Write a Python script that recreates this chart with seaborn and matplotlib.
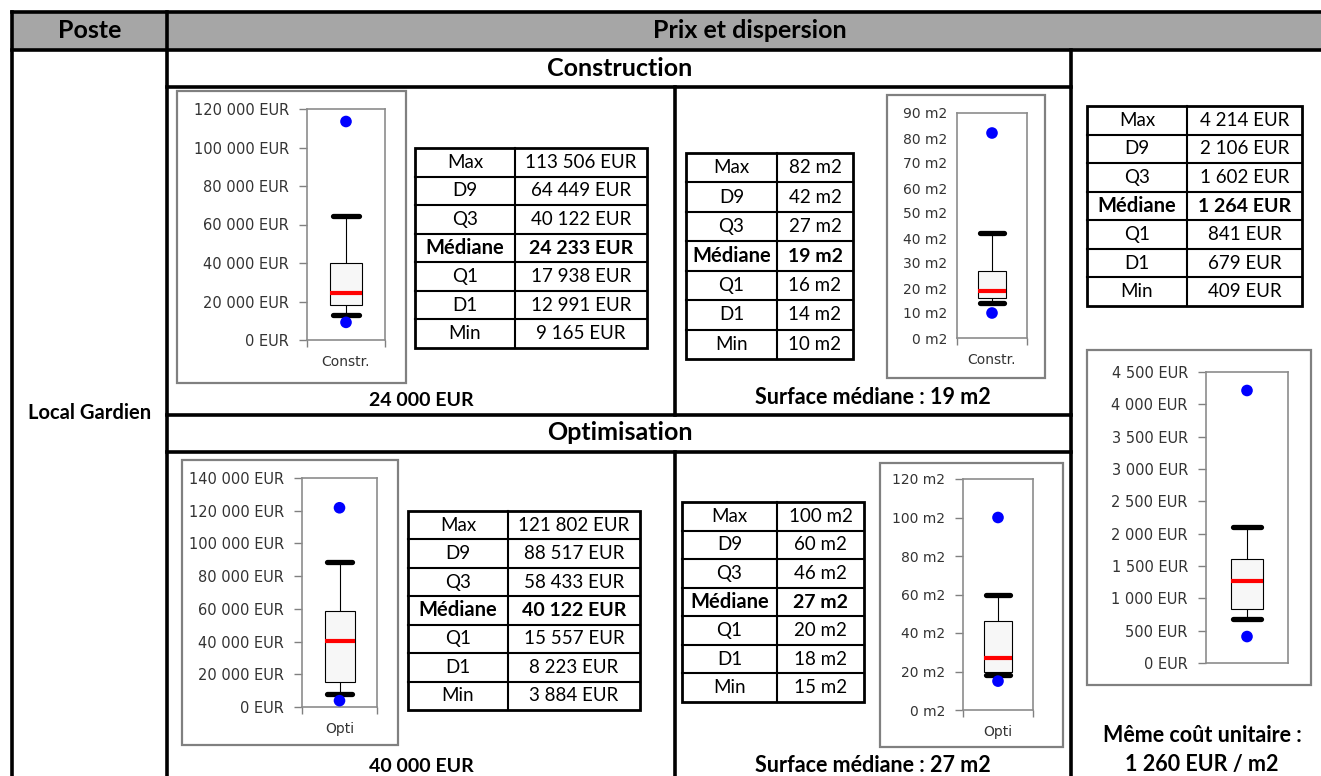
import matplotlib
matplotlib.use("Agg")
import matplotlib.pyplot as plt
import seaborn as sns
from matplotlib.patches import Rectangle
from matplotlib.ticker import FuncFormatter, MultipleLocator

W, H = 1321, 776

# stats shown in the tables and box charts (Max .. Min)
stat_labels = ["Max", "D9", "Q3", "Médiane", "Q1", "D1", "Min"]
constr_prix = [113506, 64449, 40122, 24233, 17938, 12991, 9165]
constr_surf = [82, 42, 27, 19, 16, 14, 10]
opti_prix = [121802, 88517, 58433, 40122, 15557, 8223, 3884]
opti_surf = [100, 60, 46, 27, 20, 18, 15]
cout_m2 = [4214, 2106, 1602, 1264, 841, 679, 409]

sns.set_theme(style="white")
plt.rcParams["font.family"] = ["Lato", "DejaVu Sans"]

fig = plt.figure(figsize=(W / 100, H / 100), dpi=100)
bg = fig.add_axes([0, 0, 1, 1])
bg.set_xlim(0, W)
bg.set_ylim(H, 0)
bg.axis("off")


def fmt(v, unit):
    return f"{int(v):,}".replace(",", " ") + " " + unit


def hline(y, x0, x1, lw=2.6):
    bg.plot([x0, x1], [y, y], color="black", lw=lw, solid_capstyle="projecting")


def vline(x, y0, y1, lw=2.6):
    bg.plot([x, x], [y0, y1], color="black", lw=lw, solid_capstyle="projecting")


def text(x, y, s, size=14, weight="bold"):
    bg.text(x, y, s, ha="center", va="center", fontsize=size, fontweight=weight, color="black")


def draw_table(x0, xs, x1, y0, y1, values, unit):
    rh = (y1 - y0) / len(stat_labels)
    for i, (lab, v) in enumerate(zip(stat_labels, values)):
        yc = y0 + (i + 0.5) * rh
        if lab == "Médiane":
            text((x0 + xs) / 2, yc, lab, 14.5, "bold")
            text((xs + x1) / 2, yc, fmt(v, unit), 14, "bold")
        else:
            text((x0 + xs) / 2, yc, lab, 13.5, "normal")
            text((xs + x1) / 2, yc, fmt(v, unit), 13.5, "normal")
        if i > 0:
            hline(y0 + i * rh, x0, x1, lw=1.5)
    vline(xs, y0, y1, lw=1.5)
    bg.add_patch(Rectangle((x0, y0), x1 - x0, y1 - y0, fill=False, ec="black", lw=2))


def draw_box(frame, area, values, top, step, unit, xlabel, tick_len=6, box_w=0.4):
    fx0, fy0, fx1, fy1 = frame
    bg.add_patch(Rectangle((fx0, fy0), fx1 - fx0, fy1 - fy0, fc="white", ec="#808080", lw=1.6))
    ax0, ay0, ax1, ay1 = area
    ax = fig.add_axes([ax0 / W, 1 - ay1 / H, (ax1 - ax0) / W, (ay1 - ay0) / H])
    vmax, d9, q3, med, q1, d1, vmin = values
    stats = [dict(med=med, q1=q1, q3=q3, whislo=d1, whishi=d9, fliers=[])]
    ax.bxp(stats, positions=[0], widths=box_w, capwidths=box_w * 0.85,
           patch_artist=True, showfliers=False,
           boxprops=dict(facecolor="#f7f7f7", edgecolor="black", lw=0.8),
           whiskerprops=dict(color="black", lw=0.8),
           capprops=dict(color="black", lw=3.8),
           medianprops=dict(color="red", lw=3))
    sns.scatterplot(x=[0, 0], y=[vmin, vmax], color="blue", s=70,
                    edgecolor="none", ax=ax, zorder=5)
    ax.set_xlim(-0.5, 0.5)
    ax.set_ylim(0, top)
    ax.yaxis.set_major_locator(MultipleLocator(step))
    ax.yaxis.set_major_formatter(FuncFormatter(lambda v, p: fmt(v, unit)))
    ax.set_xticks([0])
    ax.set_xticklabels([xlabel])
    ax.set_xlabel("")
    ax.set_ylabel("")
    ax.tick_params(axis="x", length=0, pad=11, labelsize=10, labelcolor="#333333")
    if xlabel:
        ax.set_xticks([-0.5, 0.5], minor=True)
        ax.tick_params(axis="x", which="minor", bottom=True, length=5, width=1, color="#808080")
    ax.tick_params(axis="y", left=True, length=tick_len, width=1, color="#808080",
                   pad=7, labelsize=10.5 if unit == "EUR" else 10, labelcolor="#333333")
    for lab in ax.get_xticklabels() + ax.get_yticklabels():
        lab.set_fontfamily("DejaVu Sans")
    for sp in ax.spines.values():
        sp.set_color("#8c8c8c")
        sp.set_linewidth(1.2)
    return ax


# header band
bg.add_patch(Rectangle((12, 12), W - 12, 38, fc="#a6a6a6", ec="none"))

# grid of the sheet
hline(12, 12, W + 5)
hline(50, 12, W + 5)
hline(87, 167, 1071)
hline(415, 167, 1071)
hline(452, 167, 1071)
vline(12, 12, H + 5)
vline(167, 12, H + 5)
vline(675, 87, 415)
vline(675, 452, H + 5)
vline(1071, 50, H + 5)

text(90, 31, "Poste", 18)
text(750, 30, "Prix et dispersion", 18)
text(620, 68, "Construction", 18)
text(620, 433, "Optimisation", 18)
text(90, 413, "Local Gardien", 14.5)

# construction
draw_box((177, 91, 406, 383), (307, 109, 385, 340), constr_prix, 120000, 20000, "EUR", "Constr.")
draw_table(415, 515, 647, 148, 348, constr_prix, "EUR")
text(421, 401, "24 000 EUR", 14)
draw_table(686, 777, 853, 153, 359, constr_surf, "m2")
draw_box((887, 95, 1045, 378), (957, 113, 1027, 338), constr_surf, 90, 10, "m2", "Constr.", tick_len=0)
text(873, 397, "Surface médiane : 19 m2", 15.5)

# optimisation
draw_box((182, 460, 398, 745), (302, 478, 377, 707), opti_prix, 140000, 20000, "EUR", "Opti")
draw_table(408, 508, 640, 511, 710, opti_prix, "EUR")
text(421, 767, "40 000 EUR", 14)
draw_table(682, 777, 864, 502, 702, opti_surf, "m2")
draw_box((880, 463, 1063, 747), (963, 479, 1033, 710), opti_surf, 120, 20, "m2", "Opti")
text(873, 766, "Surface médiane : 27 m2", 15.5)

# cout au m2
draw_table(1087, 1187, 1302, 106, 306, cout_m2, "EUR")
draw_box((1087, 350, 1311, 685), (1206, 372, 1288, 663), cout_m2, 4500, 500, "EUR", "")
text(1202, 735, "Même coût unitaire :", 15.5)
text(1202, 765, "1 260 EUR / m2", 15.5)

fig.savefig("out.png", dpi=100)
